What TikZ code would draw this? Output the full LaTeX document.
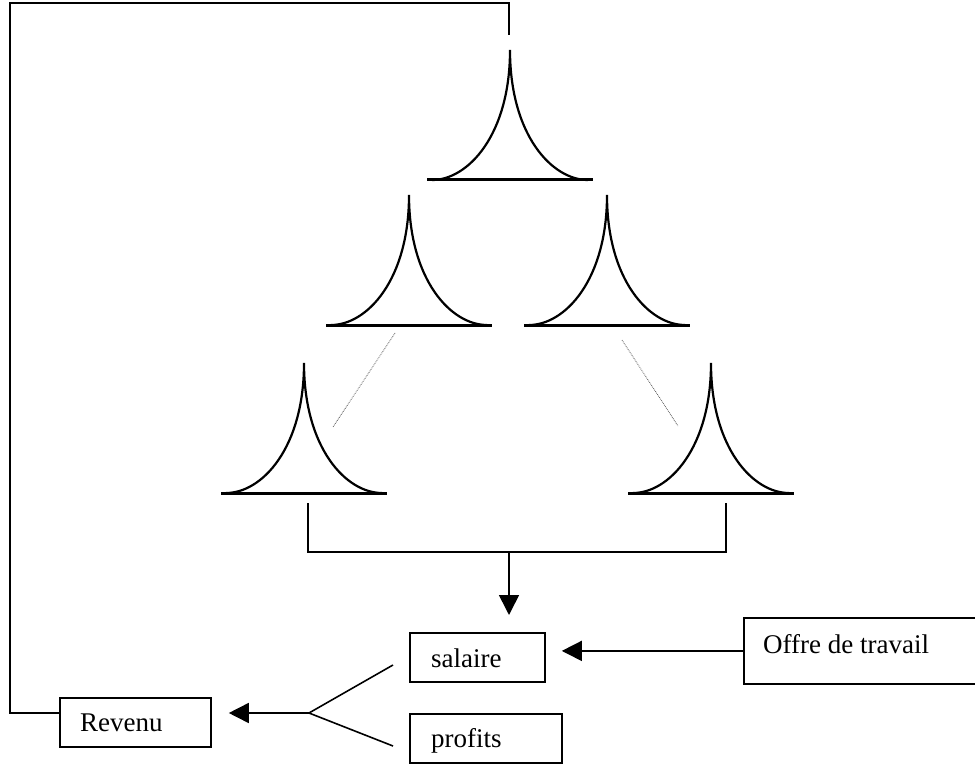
\documentclass[tikz,border=0pt]{standalone}
\usepackage{fontspec}
\setmainfont{Liberation Serif}
\usetikzlibrary{arrows.meta}
\tikzset{
  conn/.style={line width=1.6pt},
  arr/.style={conn,-{Triangle[width=20pt,length=20pt]}},
  box/.style={draw,line width=1.8pt,rectangle,inner sep=0pt,anchor=north west},
  lbl/.style={anchor=base west,inner sep=0pt,font=\fontsize{27}{32}\selectfont},
  bellcurve/.style={line width=2.2pt},
  bellbase/.style={line width=3pt},
  dots/.style={densely dotted,black!65,line width=0.8pt},
  bell/.pic={
    \draw[bellcurve] (-78,130) .. controls (-42,130) and (0,85) .. (0,0)
                               .. controls (0,85) and (42,130) .. (78,130);
    \draw[bellbase] (-83,130) -- (83,130);
  }
}
\begin{document}
\begin{tikzpicture}[x=1pt,y=-1pt]
\useasboundingbox (0,0) rectangle (975,765);
% bells
\pic (b1) at (510,50) {bell};
\pic (b2) at (409,195) {bell};
\pic (b3) at (607,195) {bell};
\pic (b4) at (304,363) {bell};
\pic (b5) at (711,363) {bell};
% dotted links
\coordinate (d1a) at (395,333);
\coordinate (d1b) at (333,427);
\coordinate (d2a) at (622,340);
\coordinate (d2b) at (678,426);
\draw[dots] (d1a) -- (d1b);
\draw[dots] (d2a) -- (d2b);
% boxes
\node[box,minimum width=151pt,minimum height=49pt] (rev) at (59,697) {};
\node[box,minimum width=135pt,minimum height=49pt] (sal) at (409,632) {};
\node[box,minimum width=152pt,minimum height=49pt] (prof) at (409,713) {};
\node[box,minimum width=245pt,minimum height=66pt] (offre) at (743,617) {};
% labels
\node[lbl] (revtxt) at (80,731) {Revenu};
\node[lbl] (saltxt) at (431,667) {salaire};
\node[lbl] (proftxt) at (431,747) {profits};
\node[lbl] (offretxt) at (763,653) {Offre de travail};
% bracket and down arrow
\coordinate (brl) at (308,503);
\coordinate (brr) at (726,503);
\coordinate (brmid) at (509,552);
\coordinate (downtip) at (509,615);
\draw[conn] (brl) |- (brmid) -| (brr);
\draw[arr] (brmid) -- (downtip);
% offre -> salaire
\draw[arr,shorten >=16pt] (offre.west) -- (sal.east |- offre.west);
% fork to revenu
\coordinate (fork) at (309,713);
\coordinate (forkup) at (393,665);
\coordinate (forkdn) at (393,746);
\draw[conn] (forkup) -- (fork) -- (forkdn);
\draw[arr,shorten >=17pt] (fork) -- (rev.east |- fork);
% feedback loop
\coordinate (fbstart) at (509,35);
\coordinate (fbtop) at (509,3);
\coordinate (fbleft) at (10,3);
\coordinate (fbbot) at (10,713);
\draw[conn] (fbstart) -- (fbtop) -- (fbleft) -- (fbbot) -- (rev.west |- fork);
\end{tikzpicture}
\end{document}
